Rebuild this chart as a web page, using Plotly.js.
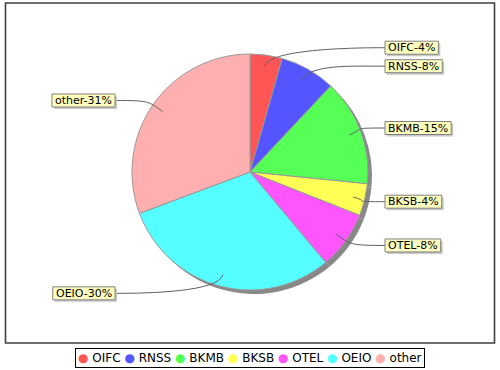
<!DOCTYPE html>
<html><head><meta charset="utf-8">
<script src="https://cdn.plot.ly/plotly-3.0.1.min.js"></script>
<style>html,body{margin:0;padding:0;background:#fff}#chart{width:500px;height:370px}</style>
</head><body><div id="chart"></div>
<script>
// ---- data ----
const categories = ['OIFC', 'RNSS', 'BKMB', 'BKSB', 'OTEL', 'OEIO', 'other'];
const values = [4.4, 7.6, 14.6, 4.4, 7.9, 30.4, 30.7];
const colors = ['#FF5555', '#5555FF', '#55FF55', '#FFFF55', '#FF55FF', '#55FFFF', '#FFAFAF'];

// ---- layout geometry (pixels) ----
const W = 500, H = 370;
const cx = 250, cy = 172, r = 118;
const shadowOff = 4;
const px = x => x / W, py = y => 1 - y / H;
const FONT = '"DejaVu Sans", Verdana, sans-serif';

const total = values.reduce((a, b) => a + b, 0);
const labelTexts = categories.map((c, i) => c + '-' + Math.round(100 * values[i] / total) + '%');

// measure text
const cvs = document.createElement('canvas');
const ctx = cvs.getContext('2d');
ctx.font = '11px "DejaVu Sans"';

// mid angles (deg clockwise from top)
let acc = 0;
const mids = values.map(v => { const a0 = acc; acc += v / total * 360; return (a0 + acc) / 2; });

const Rlab = 125.5, minGap = 18.5;
const labels = mids.map((m, i) => {
  const a = m * Math.PI / 180;
  return { i, a, right: m < 180, y: cy - Rlab * Math.cos(a) };
});
// simple overlap resolution per side
['right', 'left'].forEach(side => {
  const arr = labels.filter(l => (side === 'right') === l.right).sort((p, q) => p.y - q.y);
  for (let k = 1; k < arr.length; k++) {
    if (arr[k].y - arr[k - 1].y < minGap) arr[k].y = arr[k - 1].y + minGap;
  }
});

const shapes = [];
const annotations = [];
// outer border
shapes.push({ type: 'rect', xref: 'paper', yref: 'paper', x0: px(5.5), x1: px(494.5), y0: py(3), y1: py(343),
  line: { color: '#404040', width: 1.6 }, fillcolor: 'rgba(0,0,0,0)' });

labels.forEach(l => {
  const txt = labelTexts[l.i];
  const tw = ctx.measureText(txt).width;
  const bw = tw + 6, bh = 13;
  const bx0 = l.right ? 385 : 115 - bw;
  const bx1 = bx0 + bw;
  const by0 = l.y - bh / 2, by1 = l.y + bh / 2;
  // link curve
  const Rin = 0.9 * r, Ranc = 1.05 * r;
  const L = [cx + Rin * Math.sin(l.a), cy - Rin * Math.cos(l.a)];
  const A = [cx + Ranc * Math.sin(l.a), cy - Ranc * Math.cos(l.a)];
  const T = l.right ? [bx0, l.y] : [bx1, l.y];
  const E = l.right ? [T[0] - 35, l.y] : [T[0] + 35, l.y];
  shapes.push({ type: 'path', xref: 'paper', yref: 'paper',
    path: `M ${px(L[0])},${py(L[1])} C ${px(A[0])},${py(A[1])} ${px(E[0])},${py(E[1])} ${px(T[0])},${py(T[1])}`,
    line: { color: '#606060', width: 1 } });
  // shadow
  shapes.push({ type: 'rect', xref: 'paper', yref: 'paper', x0: px(bx0 + 2), x1: px(bx1 + 2), y0: py(by0 + 2), y1: py(by1 + 2),
    line: { width: 0 }, fillcolor: '#C8C8C8' });
  // box
  shapes.push({ type: 'rect', xref: 'paper', yref: 'paper', x0: px(bx0), x1: px(bx1), y0: py(by0), y1: py(by1),
    line: { color: '#808080', width: 1 }, fillcolor: '#FFFFC0' });
  annotations.push({ xref: 'paper', yref: 'paper', x: px((bx0 + bx1) / 2), y: py(l.y), xanchor: 'center', yanchor: 'middle',
    text: txt, showarrow: false, font: { family: FONT, size: 11, color: '#000' }, borderpad: 0 });
});

// legend
const legendText = categories.map((c, i) => `<span style="color:${colors[i]}">●</span> ${c}`).join(' ');
annotations.push({ xref: 'paper', yref: 'paper', x: px(249.5), y: py(358), xanchor: 'center', yanchor: 'middle',
  text: legendText, showarrow: false, font: { family: FONT, size: 12, color: '#000' },
  bordercolor: '#000', borderwidth: 1, borderpad: 2, bgcolor: '#fff' });

const dom = { x: [px(cx - r), px(cx + r)], y: [py(cy + r), py(cy - r)] };
const domShadow = { x: [px(cx - r + shadowOff), px(cx + r + shadowOff)], y: [py(cy + r + shadowOff), py(cy - r + shadowOff)] };

const traces = [
  { type: 'pie', labels: categories, values: values, sort: false, direction: 'clockwise', rotation: 0,
    domain: domShadow, textinfo: 'none', hoverinfo: 'skip', showlegend: false,
    marker: { colors: categories.map(() => '#888888'), line: { width: 0 } } },
  { type: 'pie', labels: categories, values: values, sort: false, direction: 'clockwise', rotation: 0,
    domain: dom, textinfo: 'none', hoverinfo: 'label+percent', showlegend: false,
    marker: { colors: colors, line: { color: '#999999', width: 1 } } }
];

const layout = {
  width: W, height: H, margin: { l: 0, r: 0, t: 0, b: 0 },
  paper_bgcolor: '#fff', plot_bgcolor: '#fff', showlegend: false,
  shapes: shapes, annotations: annotations, font: { family: FONT }
};
Plotly.newPlot('chart', traces, layout, { displayModeBar: false, staticPlot: true });
</script></body></html>
